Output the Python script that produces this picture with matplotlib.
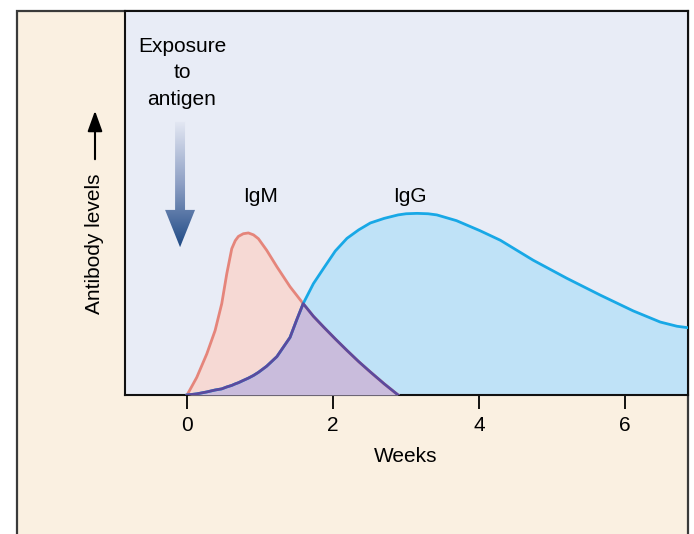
import numpy as np
import matplotlib
matplotlib.use("Agg")
import matplotlib.pyplot as plt
from matplotlib.patches import Rectangle, Polygon

BEIGE    = "#faf0e1"
LAVENDER = "#e8ecf6"
PINK_LN  = "#e5857b"
PINK_FL  = "#f6d9d4"
BLUE_LN  = "#18a8e6"
BLUE_FL  = "#bfe2f7"
PURP_LN  = "#5b4a9e"
PURP_FL  = "#c9bcdc"

plt.rcParams["font.family"] = ["Liberation Sans", "DejaVu Sans"]

# weeks where both antibodies are present (IgM response)
weeks_early = [0, 0.133, 0.27, 0.384, 0.475, 0.544, 0.612, 0.66, 0.703, 0.77,
               0.84, 0.91, 0.977, 1.09, 1.23, 1.41, 1.5, 1.59, 1.73, 1.87,
               2.03, 2.19, 2.35, 2.51, 2.7, 2.89]
igm = [0, 0.046, 0.107, 0.168, 0.238, 0.316, 0.381, 0.402, 0.413, 0.420,
       0.422, 0.417, 0.407, 0.377, 0.334, 0.282, 0.26, 0.238, 0.205, 0.177,
       0.146, 0.116, 0.087, 0.06, 0.029, 0]
igg_early = [0, 0.003, 0.008, 0.013, 0.016, 0.021, 0.025, 0.029, 0.032, 0.038,
             0.044, 0.051, 0.059, 0.075, 0.1, 0.15, 0.195, 0.238, 0.29, 0.33,
             0.375, 0.408, 0.43, 0.448, 0.46, 0.469]
# IgG tail
weeks_late = [3.0, 3.15, 3.3, 3.42, 3.69, 4.01, 4.29, 4.74, 5.2, 5.66, 6.11,
              6.48, 6.71, 6.87]
igg_late = [0.472, 0.473, 0.472, 0.469, 0.454, 0.428, 0.403, 0.351, 0.304,
            0.26, 0.219, 0.19, 0.179, 0.175]

tick_weeks = [0, 2, 4, 6]

w_e = np.array(weeks_early)
igm_a = np.array(igm)
igg_e = np.array(igg_early)
w_all = np.concatenate([w_e, weeks_late])
igg_all = np.concatenate([igg_e, igg_late])
overlap = np.minimum(igm_a, igg_e)

W, H = 694, 534
fig = plt.figure(figsize=(W / 100, H / 100), dpi=100, facecolor="white")

# beige panel behind everything
panel = Rectangle((17 / W, -0.05), (688 - 17) / W, 523 / H + 0.05,
                  transform=fig.transFigure, facecolor=BEIGE,
                  edgecolor="#3a3a3a", linewidth=1.6, zorder=-1)
fig.add_artist(panel)

ax = fig.add_axes([125 / W, (H - 395) / H, (688 - 125) / W, (395 - 11) / H])
ax.set_facecolor(LAVENDER)
x0, x1 = -0.85, 6.86
ax.set_xlim(x0, x1)
ax.set_ylim(0, 1)

ax.fill_between(w_all, 0, igg_all, color=BLUE_FL, lw=0, zorder=1)
ax.fill_between(w_e, 0, igm_a, color=PINK_FL, lw=0, zorder=2)
ax.fill_between(w_e, 0, overlap, color=PURP_FL, lw=0, zorder=3)
ax.plot(w_e, igm_a, color=PINK_LN, lw=2, zorder=4, solid_joinstyle="round")
ax.plot(w_all, igg_all, color=BLUE_LN, lw=2, zorder=4, solid_joinstyle="round")
ax.plot(w_e, overlap, color=PURP_LN, lw=2, zorder=5, solid_joinstyle="round")

# gradient arrow for antigen exposure
ax_c, hw, hh = -0.096, 0.068, 0.205
y_top, y_base, y_tip = 0.711, 0.482, 0.385
arrow_pts = [(ax_c - hw, y_top), (ax_c + hw, y_top), (ax_c + hw, y_base),
             (ax_c + hh, y_base), (ax_c, y_tip), (ax_c - hh, y_base),
             (ax_c - hw, y_base)]
arrow_poly = Polygon(arrow_pts, closed=True, facecolor="none", edgecolor="none")
ax.add_patch(arrow_poly)
grad = np.linspace(0, 1, 256).reshape(-1, 1)
cmap = matplotlib.colors.LinearSegmentedColormap.from_list(
    "ag", ["#e4e8f3", "#8d9fc4", "#1f4a85"])
im = ax.imshow(grad, cmap=cmap, aspect="auto", origin="upper",
               extent=(ax_c - hh, ax_c + hh, y_tip, y_top), zorder=6)
im.set_clip_path(arrow_poly)
ax.set_xlim(x0, x1)
ax.set_ylim(0, 1)

ax.text(-0.07, 0.839, "Exposure\nto\nantigen", ha="center", va="center",
        fontsize=15, linespacing=1.5, zorder=7)
ax.text(1.0, 0.518, "IgM", ha="center", va="center", fontsize=15, zorder=7)
ax.text(3.05, 0.518, "IgG", ha="center", va="center", fontsize=15, zorder=7)

ax.set_yticks([])
ax.set_xticks(tick_weeks)
ax.set_xticklabels([str(t) for t in tick_weeks])
ax.tick_params(axis="x", direction="out", length=10, width=1.3,
               labelsize=15, pad=5)
for s in ax.spines.values():
    s.set_linewidth(1.5)
    s.set_color("#111111")

fig.text(406 / W, (H - 457) / H, "Weeks", ha="center", va="center", fontsize=15)
fig.text(95 / W, (H - 244) / H, "Antibody levels", rotation=90,
         ha="center", va="center", fontsize=15)
fig.add_artist(matplotlib.patches.FancyArrowPatch(
    (95 / W, (H - 162) / H), (95 / W, (H - 108) / H),
    transform=fig.transFigure, arrowstyle="-|>,head_length=5,head_width=1.8",
    mutation_scale=2.5, color="black", lw=1.5))

fig.savefig("out.png", dpi=100)
